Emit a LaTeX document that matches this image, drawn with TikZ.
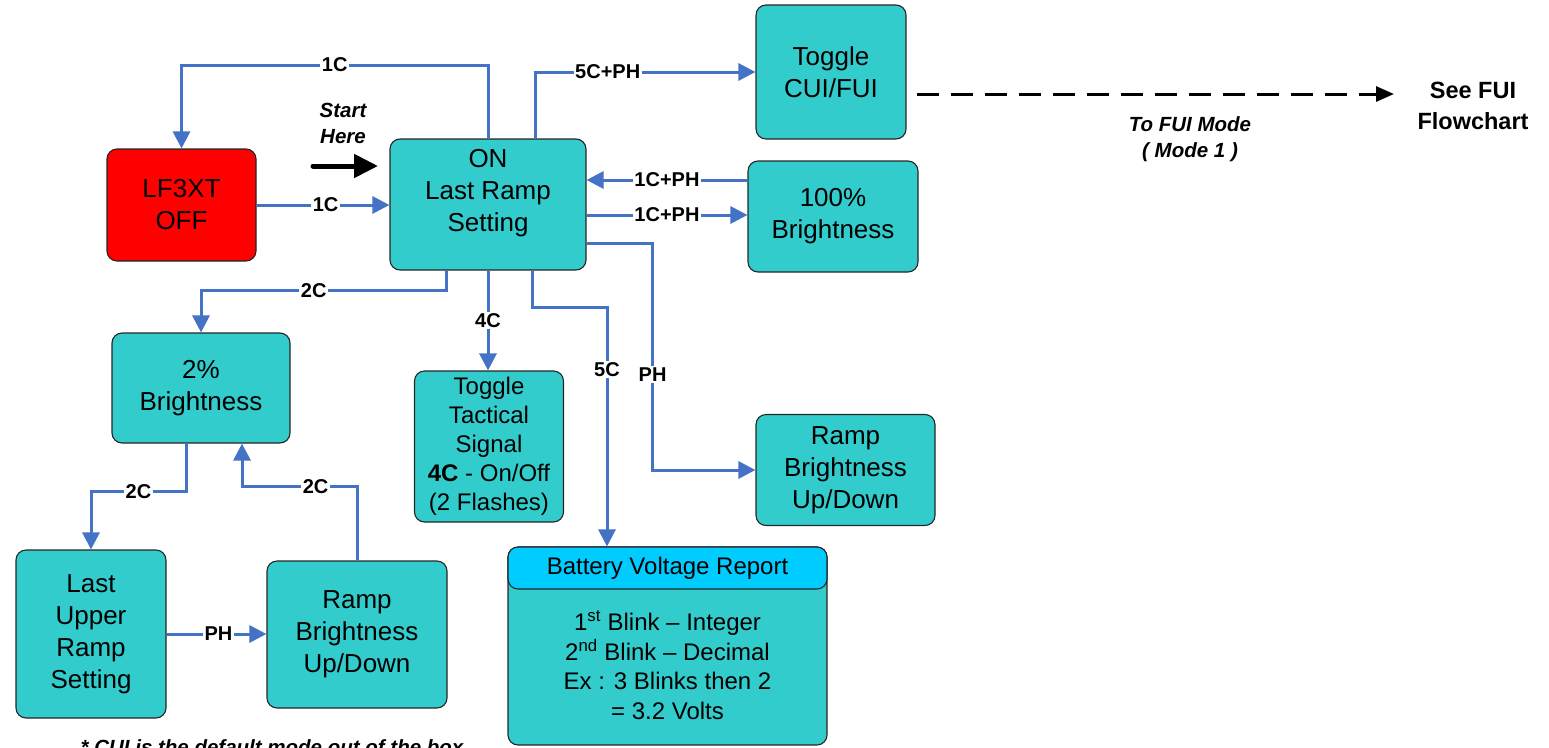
\documentclass[tikz,border=0pt]{standalone}
\usepackage{fontspec}
\setmainfont{Liberation Sans}
\usetikzlibrary{arrows.meta,calc}
\definecolor{tealbox}{HTML}{33CCCC}
\definecolor{hdrblue}{HTML}{00CCFF}
\definecolor{lineblue}{HTML}{4472C4}
\definecolor{offred}{HTML}{FF0000}
\begin{document}
\begin{tikzpicture}[x=1pt,y=-1pt,
  box/.style={draw=black!85,line width=1.1pt,rounded corners=10pt,fill=tealbox,align=center,inner sep=0pt,font=\fontsize{26}{32}\selectfont},
  txt/.style={align=center,inner sep=0pt,font=\fontsize{26}{32}\selectfont},
  conn/.style={draw=lineblue,line width=3pt,-{Triangle[length=17pt,width=17pt]}},
  lab/.style={fill=white,inner sep=1.5pt,font=\bfseries\fontsize{20}{22}\selectfont,text=black},
  note/.style={font=\bfseries\itshape\fontsize{20.5}{26}\selectfont,align=center,inner sep=0pt}]
\useasboundingbox (0,0) rectangle (1549,747);

% boxes
\node[box,fill=offred,minimum width=149pt,minimum height=112pt] (off) at (181.5,205) {LF3XT\\OFF};
\node[box,minimum width=196pt,minimum height=131pt] (on) at (488,204.5) {};
\node[txt] (ontxt) at (488,193.5) {ON\\Last Ramp\\Setting};
\node[box,minimum width=150pt,minimum height=134pt] (cui) at (831,72) {Toggle\\CUI/FUI};
\node[box,minimum width=170pt,minimum height=111pt] (hundred) at (833,216.5) {100\%\\Brightness};
\node[box,minimum width=178pt,minimum height=110pt] (two) at (201,388) {2\%\\Brightness};
\node[box,minimum width=149pt,minimum height=151pt,font=\fontsize{24}{29}\selectfont] (tact) at (489,446.5) {Toggle\\Tactical\\Signal\\\textbf{4C} - On/Off\\(2 Flashes)};
\node[box,minimum width=179pt,minimum height=111pt] (rampR) at (845.5,470) {Ramp\\Brightness\\Up/Down};
\node[box,minimum width=150pt,minimum height=168pt] (last) at (91,634) {Last\\Upper\\Ramp\\Setting};
\node[box,minimum width=180pt,minimum height=147pt] (rampB) at (357,634.5) {Ramp\\Brightness\\Up/Down};
\node[box,minimum width=319pt,minimum height=198pt] (batt) at (667.5,646) {};
\node[box,fill=hdrblue,minimum width=319pt,minimum height=42pt,font=\fontsize{24}{29}\selectfont] (hdr) at (667.5,568) {Battery Voltage Report};
\node[txt,font=\fontsize{24}{29.5}\selectfont] (batttxt) at (667.5,665) {1\textsuperscript{st} Blink -- Integer\\2\textsuperscript{nd} Blink -- Decimal\\Ex : 3 Blinks then 2\\= 3.2 Volts};

% free texts
\node[note] (start) at (343,123) {Start\\Here};
\node[note] (tofui) at (1190,139.5) {To FUI Mode\\( Mode 1 )};
\node[align=center,inner sep=0pt,font=\bfseries\fontsize{23.5}{31}\selectfont] (seefui) at (1473,105.5) {See FUI\\Flowchart};
\node[note,anchor=base] (foot) at (272,754) {* CUI is the default mode out of the box};

% helper coordinates
\coordinate (s1) at (313,166);
\coordinate (s2) at (378,166);
\coordinate (fuiend) at (1394,94);
\coordinate (h1) at ([yshift=36.5pt]hundred.west);
\coordinate (h2) at ([yshift=1.5pt]hundred.west);

% connectors
\draw[conn] (on.north) -- (on.north |- 0,65) -| node[lab,pos=0.25]{1C} (off.north);
\draw[conn] ([xshift=47pt]on.north) |- node[lab,pos=0.665]{5C+PH} (cui.west);
\draw[conn] (off.east) -- node[lab,pos=0.52]{1C} (off.east -| on.west);
\draw[conn] (h1) -- node[lab]{1C+PH} (h1 -| on.east);
\draw[conn] (h2 -| on.east) -- node[lab]{1C+PH} (h2);
\draw[conn] ([yshift=-38.5pt]on.east) -- ++(66,0) |- node[lab,pos=0.29]{PH} (rampR.west);
\draw[conn] ([xshift=-42pt]on.south) -- ++(0,20) -| node[lab,pos=0.27]{2C} (two.north);
\draw[conn] (on.south) -- node[lab]{4C} (on.south |- tact.north);
\draw[conn] ([xshift=44pt]on.south) -- ++(0,37) -| node[lab,pos=0.63]{5C} ([xshift=-60.5pt]hdr.north);
\draw[conn] ([xshift=-15pt]two.south) -- ++(0,48) -| node[lab,pos=0.25]{2C} (last.north);
\draw[conn] (rampB.north) -- ++(0,-74) -| node[lab,pos=0.18]{2C} ([xshift=41pt]two.south);
\draw[conn] (last.east) -- node[lab,pos=0.52]{PH} (last.east -| rampB.west);

% start arrow
\draw[black,line width=5pt,line cap=round,-{Triangle[length=24pt,width=23pt]}] (s1) -- (s2);
% dashed arrow
\draw[black,line width=3pt,dash pattern=on 22pt off 12pt,dash phase=24pt,-{Triangle[length=18pt,width=15pt]}] ([yshift=-22pt]cui.east) -- (fuiend);
\end{tikzpicture}
\end{document}
